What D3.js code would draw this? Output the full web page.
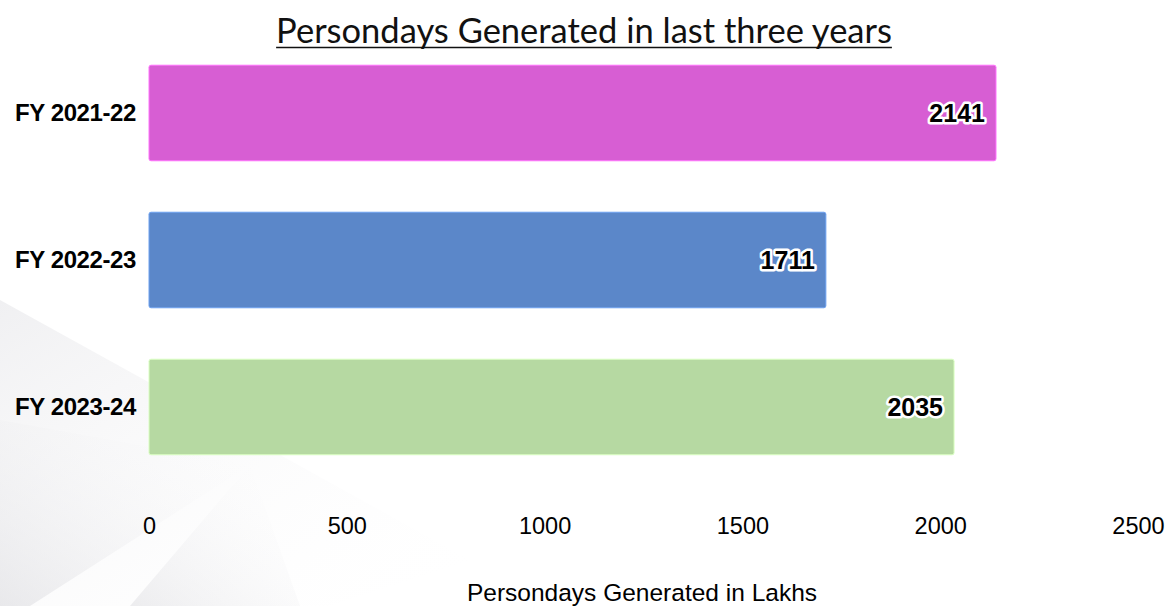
<!DOCTYPE html>
<html>
<head>
<meta charset="utf-8">
<script src="https://cdn.jsdelivr.net/npm/d3@7"></script>
<style>
  body { margin: 0; background: #fff; }
</style>
</head>
<body>
<script>
// data
const years = ['FY 2021-22', 'FY 2022-23', 'FY 2023-24'];
const persondays = [2141, 1711, 2035];
const barColors = ['#d75ed3', '#5b87c9', '#b6d9a2'];
const xTicks = [0, 500, 1000, 1500, 2000, 2500];

const W = 1167, H = 606;
const svg = d3.select('body').append('svg').attr('width', W).attr('height', H);

// faint background facets bottom-left
const defs = svg.append('defs');
const grad = defs.append('linearGradient').attr('id', 'bgG').attr('x1', 0).attr('y1', 1).attr('x2', 1).attr('y2', 0);
grad.append('stop').attr('offset', '0%').attr('stop-color', '#dcdce0');
grad.append('stop').attr('offset', '100%').attr('stop-color', '#ffffff').attr('stop-opacity', 0);
const grad2 = defs.append('linearGradient').attr('id', 'bgG2').attr('x1', 0).attr('y1', 0).attr('x2', 1).attr('y2', 1);
grad2.append('stop').attr('offset', '0%').attr('stop-color', '#f0f0f2');
grad2.append('stop').attr('offset', '100%').attr('stop-color', '#ffffff').attr('stop-opacity', 0);
svg.append('polygon').attr('points', '0,300 0,606 330,606 470,560').attr('fill', 'url(#bgG2)');
svg.append('polygon').attr('points', '0,420 250,465 30,606 0,606').attr('fill', 'url(#bgG)').attr('opacity', 0.6);
svg.append('polygon').attr('points', '250,465 130,606 300,606').attr('fill', 'url(#bgG)').attr('opacity', 0.5);

// scales
const x = d3.scaleLinear().domain([0, 2500]).range([149, 1138]);
const y = d3.scaleBand().domain(years).range([39.5, 480.5]).paddingInner(0.35).paddingOuter(0.175);

// title
const title = svg.append('text').text('Persondays Generated in last three years')
  .attr('x', 584).attr('y', 43).attr('text-anchor', 'middle')
  .attr('font-family', 'Lato, "Open Sans", sans-serif').attr('font-size', 34.5).attr('fill', '#111');
const tb = title.node().getBBox();
svg.append('line').attr('x1', tb.x).attr('x2', tb.x + tb.width).attr('y1', 47.5).attr('y2', 47.5)
  .attr('stroke', '#111').attr('stroke-width', 1.6);

// bars
svg.selectAll('rect.bar').data(years).enter().append('rect')
  .attr('class', 'bar')
  .attr('x', x(0))
  .attr('y', d => y(d))
  .attr('width', (d, i) => x(persondays[i]) - x(0))
  .attr('height', y.bandwidth())
  .attr('rx', 2)
  .attr('fill', (d, i) => barColors[i])
  .attr('stroke', (d, i) => d3.color(barColors[i]).brighter(0.5))
  .attr('stroke-width', 1);

// value labels with white halo
svg.selectAll('text.val').data(years).enter().append('text')
  .attr('class', 'val')
  .text((d, i) => persondays[i])
  .attr('x', (d, i) => x(persondays[i]) - 11)
  .attr('y', d => y(d) + y.bandwidth() / 2 + 9)
  .attr('text-anchor', 'end')
  .attr('font-family', '"Liberation Sans", Arial, sans-serif')
  .attr('font-weight', 'bold').attr('font-size', 25)
  .attr('fill', '#000').attr('stroke', '#fff').attr('stroke-width', 5)
  .attr('stroke-linejoin', 'round').attr('paint-order', 'stroke');

// category labels
const yAxis = d3.axisLeft(y).tickSize(0).tickPadding(13);
const yAxisG = svg.append('g').attr('transform', `translate(${x(0)},0)`).call(yAxis);
yAxisG.select('.domain').remove();
yAxisG.selectAll('text').attr('font-family', '"Liberation Sans", Arial, sans-serif')
  .attr('font-weight', 'bold').attr('font-size', 24).attr('fill', '#000').attr('dy', '0.35em')
  .attr('letter-spacing', -0.4);

// x axis
const xAxis = d3.axisBottom(x).tickValues(xTicks).tickFormat(d3.format('d')).tickSize(0).tickPadding(0);
const xAxisG = svg.append('g').attr('transform', 'translate(0,517)').call(xAxis);
xAxisG.select('.domain').remove();
xAxisG.selectAll('text').attr('font-family', '"Liberation Sans", Arial, sans-serif')
  .attr('font-size', 23.5).attr('fill', '#000');

svg.append('text').text('Persondays Generated in Lakhs')
  .attr('x', 642).attr('y', 601).attr('text-anchor', 'middle')
  .attr('font-family', '"Liberation Sans", Arial, sans-serif').attr('font-size', 24.5).attr('fill', '#000');
</script>
</body>
</html>
